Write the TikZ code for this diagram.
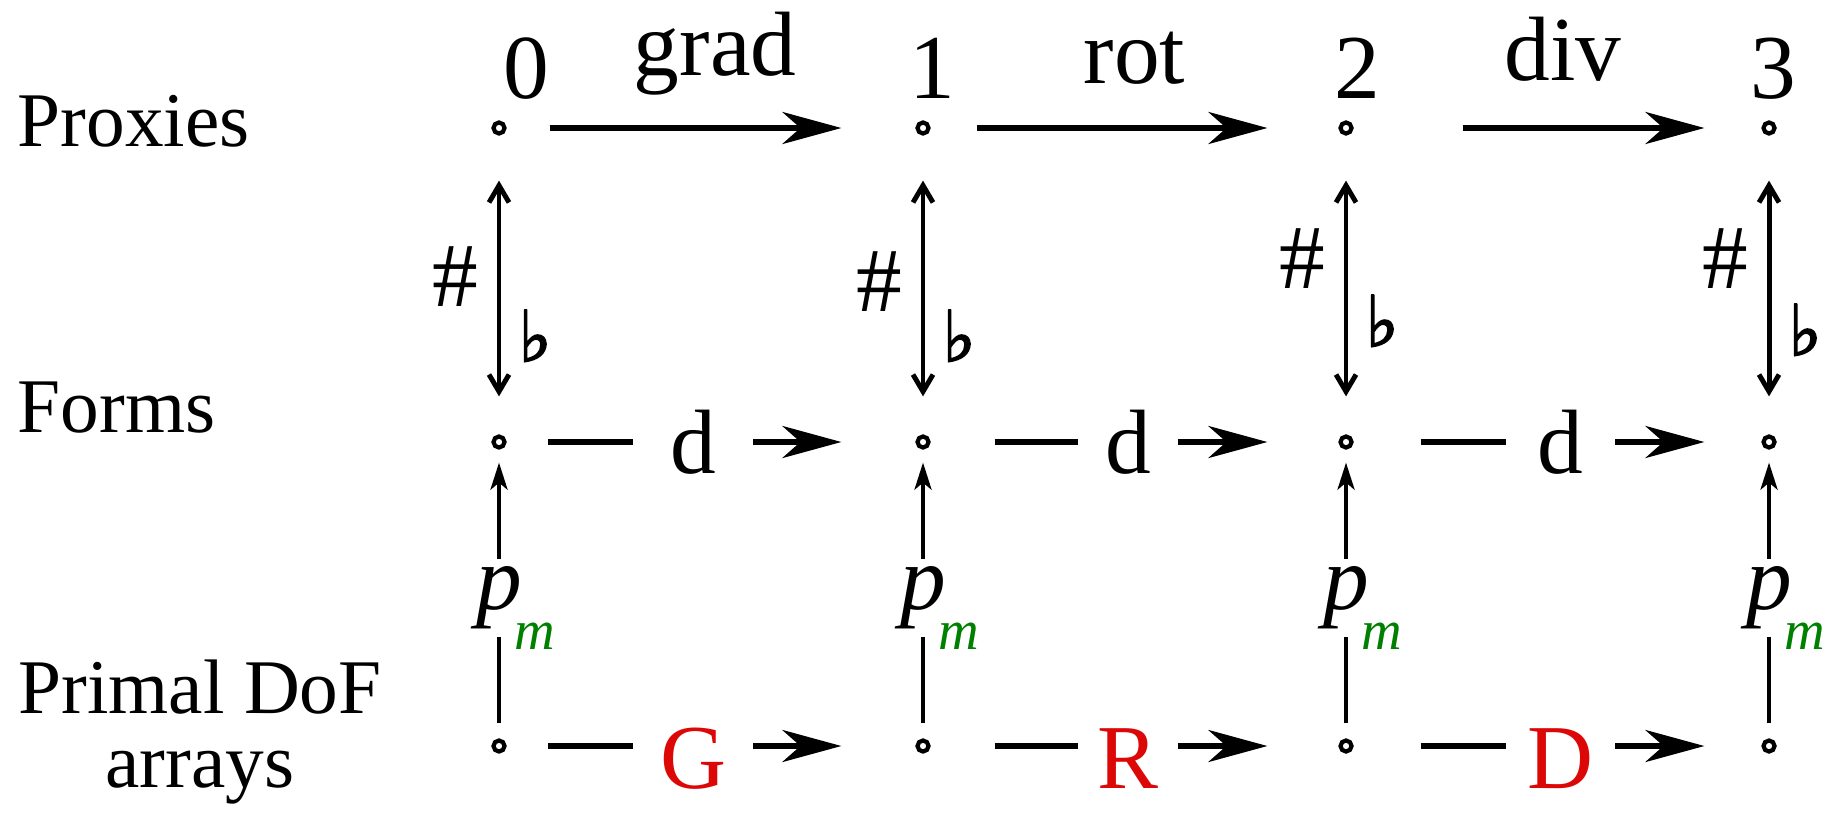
\documentclass[tikz,border=0pt]{standalone}
\usepackage{fontspec}
\setmainfont{Liberation Serif}
\newfontfamily\symfont{DejaVu Sans}[FakeBold=2.5]
\usetikzlibrary{arrows.meta}
\definecolor{opred}{RGB}{220,8,8}
\definecolor{subgreen}{RGB}{0,128,0}
\tikzset{
  pt/.style={circle,draw,line width=1.2pt,inner sep=0pt,minimum size=0.11cm},
  lbl/.style={font=\fontsize{26}{30}\selectfont},
  rowlbl/.style={font=\fontsize{22}{21}\selectfont,inner sep=0pt},
  bigarr/.style={line width=1.6pt,-{Stealth[length=0.59cm,width=0.32cm,inset=0.18cm]}},
  dblarr/.style={line width=1.4pt,{Straight Barb[length=0.17cm,width=0.2cm]}-{Straight Barb[length=0.17cm,width=0.2cm]}},
  uparr/.style={line width=1.2pt,-{Stealth[length=0.27cm,width=0.17cm,inset=0.07cm]}},
  gap/.style={lbl,fill=white,inner sep=0.05cm},
  pmlbl/.style={lbl,fill=white,inner xsep=0.05cm,inner ysep=0.08cm}
}
\newcommand{\pmsub}{\textit{p}\rlap{\kern-0.07cm\smash{\raisebox{-0.43em}{\fontsize{16}{16}\selectfont\color{subgreen}\textit{m}}}}}
\begin{document}
\begin{tikzpicture}
\useasboundingbox (0,0) rectangle (18.43,-8.14);
\foreach \i/\x in {0/4.99,1/9.23,2/13.46,3/17.69} {
  \node[pt] (px\i) at (\x,-1.28) {};
  \node[pt] (fo\i) at (\x,-4.42) {};
  \node[pt] (pr\i) at (\x,-7.46) {};
}
\node[rowlbl,anchor=base west] (proxies) at (0.17,-1.46) {Proxies};
\node[rowlbl,anchor=base west] (forms) at (0.17,-4.32) {Forms};
\node[rowlbl,anchor=base,align=center] (primal) at (2.0,-7.87) {Primal DoF\\arrays};
\node[lbl,anchor=base,inner sep=0pt] (n0) at (5.26,-0.98) {0};
\node[lbl,anchor=base,inner sep=0pt] (n1) at (9.32,-0.98) {1};
\node[lbl,anchor=base,inner sep=0pt] (n2) at (13.57,-0.98) {2};
\node[lbl,anchor=base,inner sep=0pt] (n3) at (17.73,-0.98) {3};
\draw[bigarr,shorten <=0.43cm,shorten >=0.74cm] (px0) -- (px1) node[lbl,pos=0.51,anchor=base,yshift=0.52cm] {grad};
\draw[bigarr,shorten <=0.46cm,shorten >=0.71cm] (px1) -- (px2) node[lbl,pos=0.5,anchor=base,yshift=0.45cm] {rot};
\draw[bigarr,shorten <=1.09cm,shorten >=0.57cm] (px2) -- (px3) node[lbl,pos=0.513,anchor=base,yshift=0.48cm] {div};
\draw[bigarr,shorten <=0.41cm,shorten >=0.74cm] (fo0) -- (fo1) node[gap,pos=0.456,minimum width=1.2cm] {d};
\draw[bigarr,shorten <=0.64cm,shorten >=0.71cm] (fo1) -- (fo2) node[gap,pos=0.485,minimum width=1.0cm] {d};
\draw[bigarr,shorten <=0.67cm,shorten >=0.57cm] (fo2) -- (fo3) node[gap,pos=0.508,minimum width=1.09cm] {d};
\draw[bigarr,shorten <=0.41cm,shorten >=0.74cm] (pr0) -- (pr1) node[gap,pos=0.456,minimum width=1.2cm,yshift=-0.13cm,text=opred] {G};
\draw[bigarr,shorten <=0.64cm,shorten >=0.71cm] (pr1) -- (pr2) node[gap,pos=0.485,minimum width=1.0cm,yshift=-0.13cm,text=opred] {R};
\draw[bigarr,shorten <=0.67cm,shorten >=0.57cm] (pr2) -- (pr3) node[gap,pos=0.508,minimum width=1.09cm,yshift=-0.13cm,text=opred] {D};
\foreach \i/\hp/\fp in {0/0.527/0.33,1/0.51/0.33,2/0.59/0.38,3/0.59/0.35} {
  \draw[dblarr,shorten <=0.38cm,shorten >=0.45cm] (fo\i) -- (px\i)
    node[lbl,pos=\hp,left=0.18cm,inner sep=0pt] {\#}
    node[pos=\fp,right=0.17cm,inner sep=0pt,font=\symfont\fontsize{20}{20}\selectfont] {♭};
  \draw[uparr,shorten <=0.15cm,shorten >=0.13cm] (pr\i) -- (fo\i) node[pmlbl,pos=0.486] {\pmsub};
}
\end{tikzpicture}
\end{document}
